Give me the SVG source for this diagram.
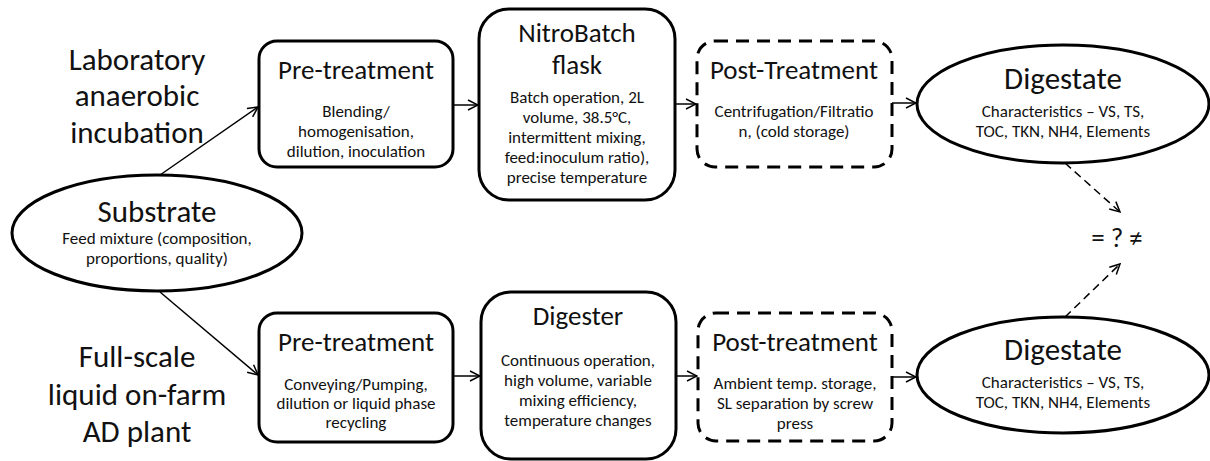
<svg xmlns="http://www.w3.org/2000/svg" width="1210" height="461" viewBox="0 0 1210 461">
<style>
text{font-family:Carlito,Lato,"Liberation Sans",sans-serif;fill:#111;text-anchor:middle}
.big{font-size:31px}
.ttl{font-size:27px}
.ttl2{font-size:27px}
.sm{font-size:17px}
.box{fill:#fff;stroke:#000;stroke-width:3}
.dash{fill:#fff;stroke:#000;stroke-width:3;stroke-dasharray:13 8}
.ln{fill:none;stroke:#000;stroke-width:1.5}
.dl{fill:none;stroke:#000;stroke-width:1.5;stroke-dasharray:8 5}
</style>
<defs>
<marker id="ah" viewBox="0 0 12 12" refX="11" refY="6" markerWidth="12" markerHeight="12" markerUnits="userSpaceOnUse" orient="auto">
<path d="M1,1 L11,6 L1,11" fill="none" stroke="#000" stroke-width="1.5"/>
</marker>
</defs>
<g id="labels">
<text class="big" x="137" y="70">Laboratory</text>
<text class="big" x="137" y="106">anaerobic</text>
<text class="big" x="137" y="143">incubation</text>
<text class="big" x="137" y="367">Full-scale</text>
<text class="big" x="137" y="405">liquid on-farm</text>
<text class="big" x="137" y="442">AD plant</text>
</g>
<g id="connectors">
<line class="ln" x1="160" y1="175" x2="258" y2="107" marker-end="url(#ah)"/>
<line class="ln" x1="160" y1="292" x2="258" y2="375" marker-end="url(#ah)"/>
<line class="ln" x1="453" y1="105" x2="478" y2="105" marker-end="url(#ah)"/>
<line class="ln" x1="675" y1="104" x2="696" y2="104" marker-end="url(#ah)"/>
<line class="ln" x1="892" y1="103" x2="916" y2="103" marker-end="url(#ah)"/>
<line class="ln" x1="453" y1="376" x2="480" y2="376" marker-end="url(#ah)"/>
<line class="ln" x1="676" y1="376" x2="697" y2="376" marker-end="url(#ah)"/>
<line class="ln" x1="892" y1="377" x2="916" y2="377" marker-end="url(#ah)"/>
<line class="dl" x1="1065" y1="163" x2="1120" y2="212" marker-end="url(#ah)"/>
<line class="dl" x1="1065" y1="317" x2="1120" y2="264" marker-end="url(#ah)"/>
</g>
<g id="substrate">
<ellipse class="box" cx="157" cy="233" rx="145" ry="58"/>
<text class="big" x="157" y="222">Substrate</text>
<text class="sm" x="157" y="244">Feed mixture (composition,</text>
<text class="sm" x="157" y="264">proportions, quality)</text>
</g>
<g id="pre-top">
<rect class="box" x="259" y="41" width="194" height="126" rx="18"/>
<text class="ttl" x="356" y="79">Pre-treatment</text>
<text class="sm" x="356" y="117">Blending/</text>
<text class="sm" x="356" y="137">homogenisation,</text>
<text class="sm" x="356" y="157">dilution, inoculation</text>
</g>
<g id="nitrobatch">
<rect class="box" x="479" y="9" width="196" height="191" rx="30"/>
<text class="ttl2" x="577" y="42">NitroBatch</text>
<text class="ttl2" x="577" y="74">flask</text>
<text class="sm" x="577" y="103">Batch operation, 2L</text>
<text class="sm" x="577" y="123">volume, 38.5°C,</text>
<text class="sm" x="577" y="143">intermittent mixing,</text>
<text class="sm" x="577" y="163">feed:inoculum ratio),</text>
<text class="sm" x="577" y="183">precise temperature</text>
</g>
<g id="post-top">
<rect class="dash" x="697" y="41" width="195" height="126" rx="18"/>
<text class="ttl" x="794" y="79">Post-Treatment</text>
<text class="sm" x="794" y="117">Centrifugation/Filtratio</text>
<text class="sm" x="794" y="137">n, (cold storage)</text>
</g>
<g id="digestate-top">
<ellipse class="box" cx="1063" cy="104" rx="146" ry="59"/>
<text class="big" x="1063" y="89">Digestate</text>
<text class="sm" x="1063" y="117">Characteristics – VS, TS,</text>
<text class="sm" x="1063" y="137">TOC, TKN, NH4, Elements</text>
</g>
<g id="compare">
<text class="ttl2" x="1117" y="247">= ? ≠</text>
</g>
<g id="pre-bottom">
<rect class="box" x="259" y="313" width="194" height="129" rx="18"/>
<text class="ttl" x="356" y="351">Pre-treatment</text>
<text class="sm" x="356" y="390">Conveying/Pumping,</text>
<text class="sm" x="356" y="409">dilution or liquid phase</text>
<text class="sm" x="356" y="428">recycling</text>
</g>
<g id="digester">
<rect class="box" x="481" y="292" width="195" height="167" rx="30"/>
<text class="ttl2" x="578" y="325">Digester</text>
<text class="sm" x="578" y="366">Continuous operation,</text>
<text class="sm" x="578" y="386">high volume, variable</text>
<text class="sm" x="578" y="406">mixing efficiency,</text>
<text class="sm" x="578" y="426">temperature changes</text>
</g>
<g id="post-bottom">
<rect class="dash" x="698" y="313" width="194" height="128" rx="18"/>
<text class="ttl" x="795" y="351">Post-treatment</text>
<text class="sm" x="795" y="389">Ambient temp. storage,</text>
<text class="sm" x="795" y="409">SL separation by screw</text>
<text class="sm" x="795" y="429">press</text>
</g>
<g id="digestate-bottom">
<ellipse class="box" cx="1063" cy="375" rx="146" ry="58"/>
<text class="big" x="1063" y="360">Digestate</text>
<text class="sm" x="1063" y="388">Characteristics – VS, TS,</text>
<text class="sm" x="1063" y="408">TOC, TKN, NH4, Elements</text>
</g>
</svg>
